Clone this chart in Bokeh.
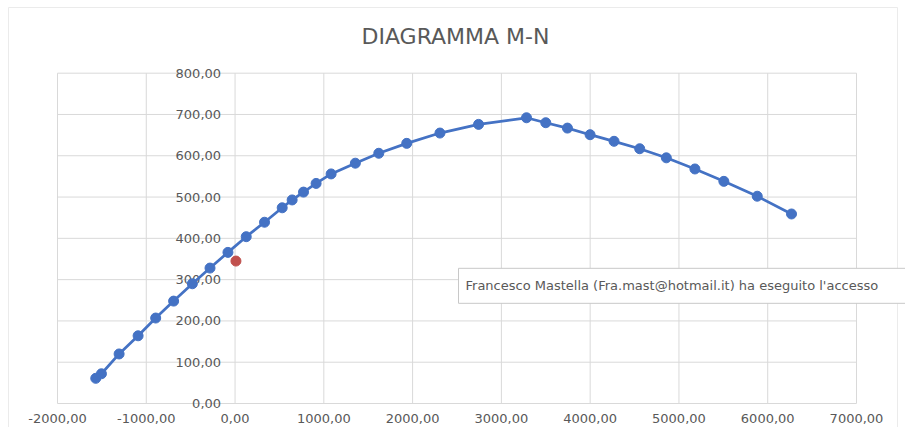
from bokeh.plotting import figure
from bokeh.models import Label, ColumnDataSource
from bokeh.core.properties import value
from bokeh.embed import file_html
from bokeh.resources import INLINE

# --- data ---
M_vals = [-1569, -1505, -1306, -1092, -894, -692, -481, -282, -80, 126, 332,
          531, 643, 771, 913, 1082, 1355, 1619, 1934, 2308, 2743, 3283, 3500,
          3744, 3999, 4269, 4558, 4858, 5180, 5506, 5882, 6268]
N_vals = [61, 72, 120, 164, 207, 248, 290, 328, 366, 404, 439,
          474, 493, 512, 533, 556, 582, 606, 630, 655, 676, 692, 680,
          667, 651, 635, 617, 595, 568, 538, 502, 459]
point_x = [10]
point_y = [345]

x_ticks = [-2000, -1000, 0, 1000, 2000, 3000, 4000, 5000, 6000, 7000]
x_tick_labels = ["-2000,00", "-1000,00", "0,00", "1000,00", "2000,00", "3000,00",
                 "4000,00", "5000,00", "6000,00", "7000,00"]
y_ticks = [0, 100, 200, 300, 400, 500, 600, 700, 800]
y_tick_labels = ["0,00", "100,00", "200,00", "300,00", "400,00", "500,00",
                 "600,00", "700,00", "800,00"]

title_text = "DIAGRAMMA M-N"
tooltip_text = "Francesco Mastella (Fra.mast@hotmail.it) ha eseguito l'accesso"

GREY = "#595959"
GRID = "#d9d9d9"
BLUE = "#4472c4"
RED = "#c0504d"
FONT = "DejaVu Sans"

# frame fills the whole figure; the chart's plot area is the x_ticks/y_ticks extent
p = figure(width=905, height=427, output_backend="svg", toolbar_location=None,
           title=None,
           x_range=(-2642, 7552), y_range=(-58.1, 976),
           min_border_left=0, min_border_right=0, min_border_top=0,
           min_border_bottom=0)

p.outline_line_color = None
p.background_fill_color = "white"
p.border_fill_color = "white"
p.grid.visible = False
p.axis.visible = False

# outer chart border (faint)
p.quad(left=[-2552], right=[7462], bottom=[-100], top=[959],
       fill_color=None, line_color="#ebebeb", line_width=1)

# grid lines from the tick lists
nx, ny = len(x_ticks), len(y_ticks)
p.segment(x0=x_ticks, x1=x_ticks, y0=[y_ticks[0]] * nx, y1=[y_ticks[-1]] * nx,
          line_color=GRID, line_width=1)
p.segment(x0=[x_ticks[0]] * ny, x1=[x_ticks[-1]] * ny, y0=y_ticks, y1=y_ticks,
          line_color=GRID, line_width=1)

# y tick labels next to the vertical axis at x = 0
ysrc = ColumnDataSource(dict(x=[0] * ny, y=y_ticks, t=y_tick_labels))
p.text(x="x", y="y", text="t", source=ysrc, x_offset=-14,
       text_align="right", text_baseline="middle",
       text_font=value(FONT), text_font_size="13px", text_color=GREY)

# x tick labels below the bottom axis (y = 0)
xsrc = ColumnDataSource(dict(x=x_ticks, y=[0] * nx, t=x_tick_labels))
p.text(x="x", y="y", text="t", source=xsrc, y_offset=15,
       text_align="center", text_baseline="middle",
       text_font=value(FONT), text_font_size="13px", text_color=GREY)

# title
p.text(x=[2483], y=[889], text=[title_text], text_align="center",
       text_baseline="middle", text_font=value(FONT), text_font_size="22px",
       text_color=GREY)

# series
src = ColumnDataSource(dict(x=M_vals, y=N_vals))
p.line(x="x", y="y", source=src, line_color=BLUE, line_width=2.75)
p.scatter(x="x", y="y", source=src, size=10, fill_color=BLUE, line_color=BLUE)
p.scatter(x=point_x, y=point_y, size=10, fill_color=RED, line_color=RED)

# tooltip-like note
lab = Label(x=2517, y=285, text=tooltip_text, text_font=FONT,
            text_font_size="13px", text_color=GREY, text_baseline="middle",
            text_align="left",
            padding=dict(left=7, right=30, top=10, bottom=10),
            background_fill_color="white",
            border_line_color="#c8c8c8", border_line_width=1)
p.add_layout(lab)

open("out.html", "w").write(file_html(p, INLINE))
